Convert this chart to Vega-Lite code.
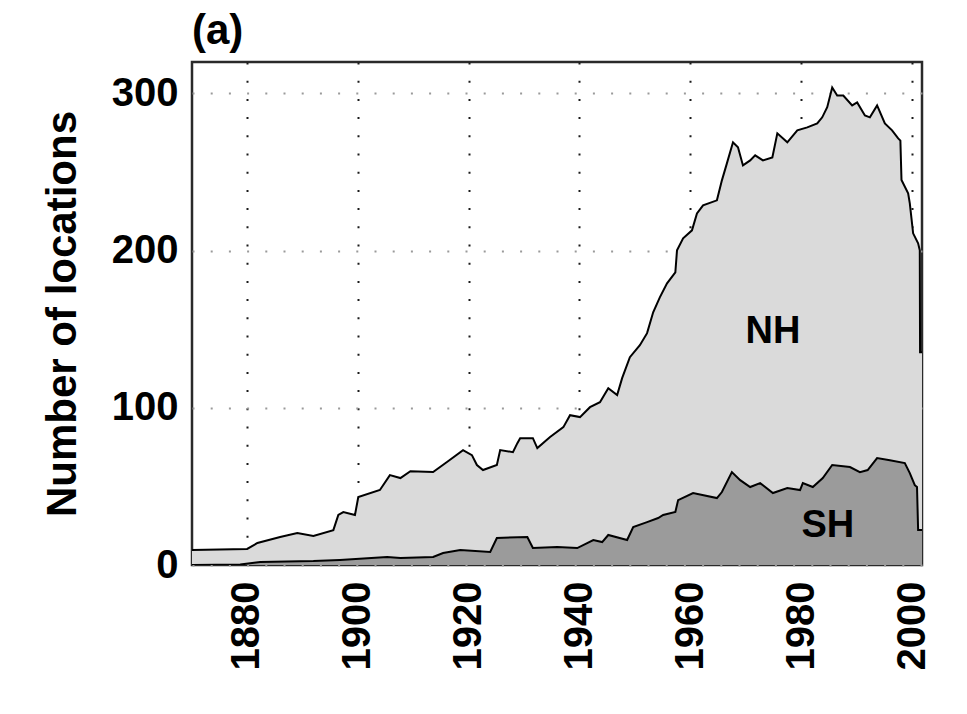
{
  "$schema": "https://vega.github.io/schema/vega-lite/v6.json",
  "width": 730,
  "height": 503,
  "autosize": {"type": "none"},
  "padding": {"left": 192, "top": 62, "right": 45, "bottom": 149},
  "background": "white",
  "config": {
    "font": "Liberation Sans",
    "view": {"stroke": "#2a2a2a", "strokeWidth": 2.5}
  },
  "title": {
    "text": "(a)",
    "anchor": "start",
    "frame": "group",
    "fontSize": 42,
    "fontWeight": "bold",
    "font": "Liberation Sans",
    "color": "black",
    "offset": 9
  },
  "datasets": {
    "series": [
      {"series": "NH", "year": 1870.1, "count": 9.5},
      {"series": "NH", "year": 1880.05, "count": 10.2},
      {"series": "NH", "year": 1881.9, "count": 14.0},
      {"series": "NH", "year": 1886.0, "count": 17.8},
      {"series": "NH", "year": 1889.1, "count": 20.3},
      {"series": "NH", "year": 1892.0, "count": 18.4},
      {"series": "NH", "year": 1895.6, "count": 22.2},
      {"series": "NH", "year": 1896.5, "count": 31.8},
      {"series": "NH", "year": 1897.4, "count": 33.7},
      {"series": "NH", "year": 1899.5, "count": 31.8},
      {"series": "NH", "year": 1900.1, "count": 43.2},
      {"series": "NH", "year": 1904.0, "count": 47.7},
      {"series": "NH", "year": 1905.8, "count": 57.2},
      {"series": "NH", "year": 1907.7, "count": 55.3},
      {"series": "NH", "year": 1909.5, "count": 59.7},
      {"series": "NH", "year": 1913.6, "count": 59.1},
      {"series": "NH", "year": 1916.1, "count": 65.5},
      {"series": "NH", "year": 1919.0, "count": 73.1},
      {"series": "NH", "year": 1920.6, "count": 69.9},
      {"series": "NH", "year": 1921.5, "count": 63.6},
      {"series": "NH", "year": 1922.6, "count": 60.4},
      {"series": "NH", "year": 1925.1, "count": 63.6},
      {"series": "NH", "year": 1925.7, "count": 73.1},
      {"series": "NH", "year": 1928.0, "count": 71.8},
      {"series": "NH", "year": 1928.8, "count": 77.5},
      {"series": "NH", "year": 1929.3, "count": 80.7},
      {"series": "NH", "year": 1931.6, "count": 80.7},
      {"series": "NH", "year": 1932.4, "count": 74.4},
      {"series": "NH", "year": 1934.7, "count": 81.4},
      {"series": "NH", "year": 1937.1, "count": 87.7},
      {"series": "NH", "year": 1938.3, "count": 95.3},
      {"series": "NH", "year": 1940.1, "count": 94.1},
      {"series": "NH", "year": 1941.9, "count": 100.4},
      {"series": "NH", "year": 1943.7, "count": 103.6},
      {"series": "NH", "year": 1945.2, "count": 112.5},
      {"series": "NH", "year": 1946.8, "count": 108.1},
      {"series": "NH", "year": 1947.7, "count": 118.9},
      {"series": "NH", "year": 1949.1, "count": 132.2},
      {"series": "NH", "year": 1950.9, "count": 139.8},
      {"series": "NH", "year": 1952.2, "count": 147.5},
      {"series": "NH", "year": 1953.3, "count": 160.8},
      {"series": "NH", "year": 1954.5, "count": 170.3},
      {"series": "NH", "year": 1955.8, "count": 179.2},
      {"series": "NH", "year": 1957.3, "count": 186.2},
      {"series": "NH", "year": 1957.6, "count": 200.2},
      {"series": "NH", "year": 1958.7, "count": 207.8},
      {"series": "NH", "year": 1960.3, "count": 212.9},
      {"series": "NH", "year": 1961.2, "count": 223.7},
      {"series": "NH", "year": 1962.3, "count": 228.8},
      {"series": "NH", "year": 1964.8, "count": 232.0},
      {"series": "NH", "year": 1965.7, "count": 244.7},
      {"series": "NH", "year": 1966.6, "count": 255.5},
      {"series": "NH", "year": 1967.7, "count": 268.9},
      {"series": "NH", "year": 1968.6, "count": 265.7},
      {"series": "NH", "year": 1969.5, "count": 254.2},
      {"series": "NH", "year": 1970.8, "count": 257.4},
      {"series": "NH", "year": 1971.7, "count": 260.6},
      {"series": "NH", "year": 1973.1, "count": 257.4},
      {"series": "NH", "year": 1974.8, "count": 259.3},
      {"series": "NH", "year": 1975.7, "count": 274.6},
      {"series": "NH", "year": 1977.5, "count": 268.9},
      {"series": "NH", "year": 1979.3, "count": 276.5},
      {"series": "NH", "year": 1981.1, "count": 278.4},
      {"series": "NH", "year": 1982.9, "count": 280.9},
      {"series": "NH", "year": 1983.8, "count": 284.8},
      {"series": "NH", "year": 1984.7, "count": 291.2},
      {"series": "NH", "year": 1985.6, "count": 303.8},
      {"series": "NH", "year": 1986.5, "count": 298.7},
      {"series": "NH", "year": 1987.6, "count": 298.7},
      {"series": "NH", "year": 1989.2, "count": 292.4},
      {"series": "NH", "year": 1990.1, "count": 294.3},
      {"series": "NH", "year": 1991.5, "count": 286.0},
      {"series": "NH", "year": 1992.4, "count": 284.8},
      {"series": "NH", "year": 1993.7, "count": 292.4},
      {"series": "NH", "year": 1995.1, "count": 280.9},
      {"series": "NH", "year": 1996.4, "count": 276.5},
      {"series": "NH", "year": 1997.5, "count": 271.4},
      {"series": "NH", "year": 1997.9, "count": 270.0},
      {"series": "NH", "year": 1998.1, "count": 245.0},
      {"series": "NH", "year": 1999.3, "count": 236.4},
      {"series": "NH", "year": 1999.6, "count": 230.1},
      {"series": "NH", "year": 2000.2, "count": 211.0},
      {"series": "NH", "year": 2001.1, "count": 204.7},
      {"series": "NH", "year": 2001.4, "count": 200.2},
      {"series": "NH", "year": 2001.45, "count": 135.4},
      {"series": "NH", "year": 2001.8, "count": 135.4},
      {"series": "SH", "year": 1870.1, "count": 0},
      {"series": "SH", "year": 1878.8, "count": 0.3},
      {"series": "SH", "year": 1882.4, "count": 1.9},
      {"series": "SH", "year": 1892.0, "count": 2.5},
      {"series": "SH", "year": 1896.8, "count": 3.2},
      {"series": "SH", "year": 1905.3, "count": 5.1},
      {"series": "SH", "year": 1907.7, "count": 4.4},
      {"series": "SH", "year": 1913.6, "count": 5.1},
      {"series": "SH", "year": 1915.4, "count": 7.6},
      {"series": "SH", "year": 1918.5, "count": 9.5},
      {"series": "SH", "year": 1923.9, "count": 8.3},
      {"series": "SH", "year": 1925.1, "count": 17.2},
      {"series": "SH", "year": 1930.6, "count": 17.8},
      {"series": "SH", "year": 1931.6, "count": 10.8},
      {"series": "SH", "year": 1936.0, "count": 11.4},
      {"series": "SH", "year": 1939.6, "count": 10.8},
      {"series": "SH", "year": 1942.5, "count": 15.9},
      {"series": "SH", "year": 1944.1, "count": 14.6},
      {"series": "SH", "year": 1945.2, "count": 19.1},
      {"series": "SH", "year": 1948.6, "count": 15.9},
      {"series": "SH", "year": 1949.7, "count": 24.2},
      {"series": "SH", "year": 1952.2, "count": 27.3},
      {"series": "SH", "year": 1954.2, "count": 29.9},
      {"series": "SH", "year": 1955.1, "count": 31.8},
      {"series": "SH", "year": 1957.3, "count": 33.7},
      {"series": "SH", "year": 1957.8, "count": 41.3},
      {"series": "SH", "year": 1960.5, "count": 45.8},
      {"series": "SH", "year": 1964.8, "count": 42.6},
      {"series": "SH", "year": 1965.7, "count": 46.4},
      {"series": "SH", "year": 1967.5, "count": 59.1},
      {"series": "SH", "year": 1969.0, "count": 54.0},
      {"series": "SH", "year": 1970.8, "count": 49.6},
      {"series": "SH", "year": 1972.6, "count": 52.1},
      {"series": "SH", "year": 1974.9, "count": 45.8},
      {"series": "SH", "year": 1977.5, "count": 48.9},
      {"series": "SH", "year": 1979.8, "count": 47.7},
      {"series": "SH", "year": 1980.3, "count": 52.1},
      {"series": "SH", "year": 1982.1, "count": 49.6},
      {"series": "SH", "year": 1983.9, "count": 55.3},
      {"series": "SH", "year": 1985.6, "count": 63.6},
      {"series": "SH", "year": 1988.8, "count": 62.3},
      {"series": "SH", "year": 1990.6, "count": 59.1},
      {"series": "SH", "year": 1992.0, "count": 60.4},
      {"series": "SH", "year": 1993.7, "count": 68.0},
      {"series": "SH", "year": 1996.0, "count": 66.7},
      {"series": "SH", "year": 1998.7, "count": 64.8},
      {"series": "SH", "year": 1999.6, "count": 58.5},
      {"series": "SH", "year": 2000.5, "count": 50.8},
      {"series": "SH", "year": 2000.9, "count": 49.6},
      {"series": "SH", "year": 2001.1, "count": 22.2},
      {"series": "SH", "year": 2001.8, "count": 22.2}
    ],
    "labels": [
      {"label": "NH", "year": 1974.9, "count": 148},
      {"label": "SH", "year": 1984.8, "count": 24.5}
    ]
  },
  "encoding": {
    "x": {
      "field": "year",
      "type": "quantitative",
      "scale": {"domain": [1870.1, 2001.8], "nice": false, "zero": false},
      "axis": {
        "values": [1880, 1900, 1920, 1940, 1960, 1980, 2000],
        "format": "d",
        "title": null,
        "labelAngle": 270,
        "labelFontSize": 40,
        "labelFontWeight": "bold",
        "labelColor": "black",
        "labelPadding": 16,
        "ticks": false,
        "domain": false,
        "grid": true,
        "gridColor": "#1a1a1a",
        "gridWidth": 2,
        "gridDash": [2, 16.2],
        "gridOpacity": 1
      }
    },
    "y": {
      "field": "count",
      "type": "quantitative",
      "scale": {"domain": [0, 320], "nice": false},
      "axis": {
        "values": [0, 100, 200, 300],
        "title": "Number of locations",
        "titleFontSize": 42,
        "titleFontWeight": "bold",
        "titleColor": "black",
        "titleX": -117,
        "titleY": 251.5,
        "titleBaseline": "alphabetic",
        "labelFontSize": 40,
        "labelFontWeight": "bold",
        "labelColor": "black",
        "labelPadding": 14,
        "ticks": false,
        "domain": false,
        "grid": true,
        "gridColor": "#9a9a9a",
        "gridWidth": 2,
        "gridDash": [2, 16.2],
        "gridOpacity": 1
      }
    }
  },
  "layer": [
    {
      "data": {"name": "series"},
      "transform": [{"filter": "datum.series === 'NH'"}],
      "mark": {"type": "area", "color": "#dadada", "opacity": 1, "clip": true,
               "line": {"color": "black", "strokeWidth": 2}},
      "encoding": {}
    },
    {
      "data": {"name": "series"},
      "transform": [{"filter": "datum.series === 'SH'"}],
      "mark": {"type": "area", "color": "#9b9b9b", "opacity": 1, "clip": true,
               "line": {"color": "black", "strokeWidth": 2}},
      "encoding": {}
    },
    {
      "data": {"name": "labels"},
      "mark": {"type": "text", "fontSize": 38, "fontWeight": "bold", "color": "black", "align": "center", "baseline": "middle"},
      "encoding": {"text": {"field": "label", "type": "nominal"}}
    }
  ]
}
